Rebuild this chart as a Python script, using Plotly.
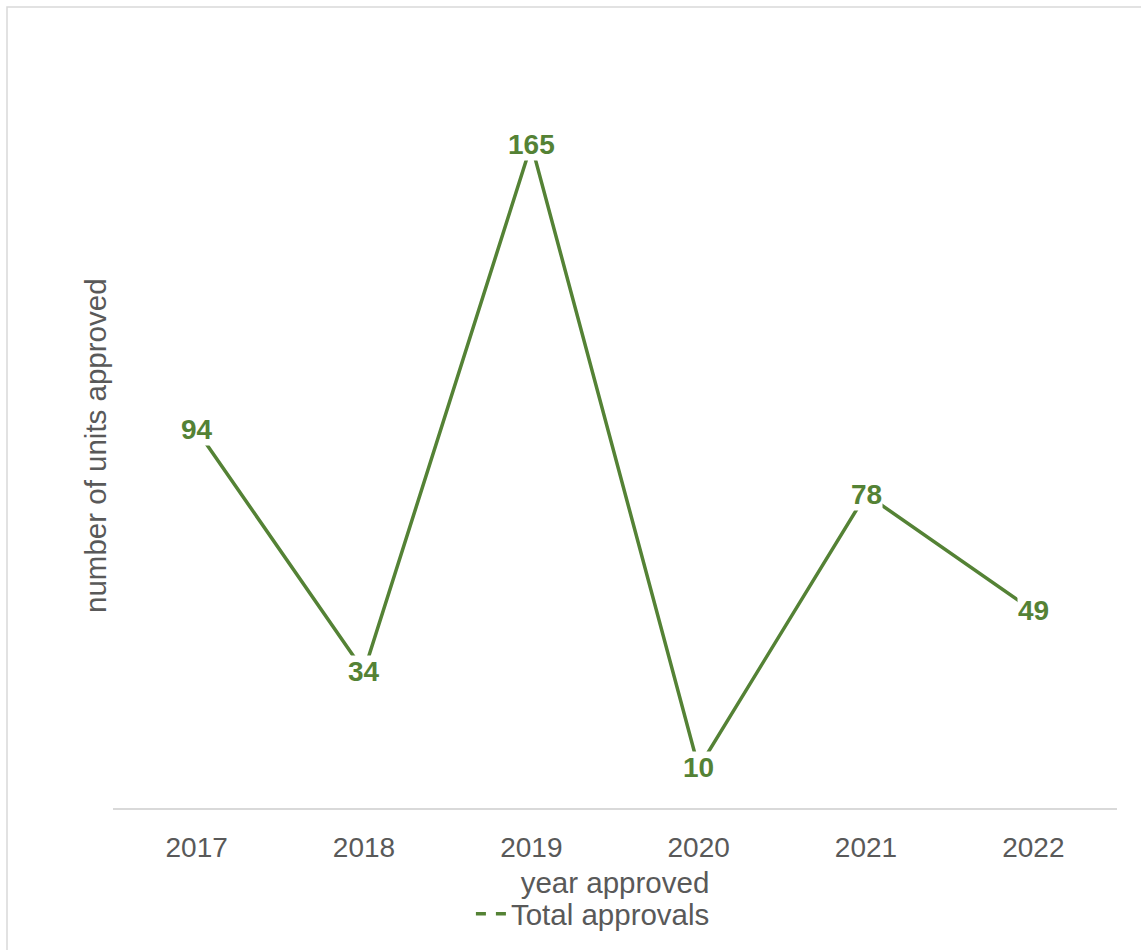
import plotly.graph_objects as go

years = ["2017", "2018", "2019", "2020", "2021", "2022"]
approvals = [94, 34, 165, 10, 78, 49]
series_name = "Total approvals"

GREEN = "#548235"
GREY = "#595959"
FONT = "Arial, Liberation Sans, sans-serif"

fig = go.Figure()
fig.add_trace(go.Scatter(x=years, y=approvals, mode="lines",
                         line=dict(color=GREEN, width=3.5), showlegend=False,
                         hoverinfo="x+y"))
# legend entry (sample drawn dashed as in the reference)
fig.add_trace(go.Scatter(x=[None], y=[None], mode="lines", name=series_name,
                         line=dict(color=GREEN, width=3.5, dash="10px,10px")))

for i, y in enumerate(approvals):
    fig.add_annotation(x=i, y=y, text=f"<b>{y}</b>", showarrow=False,
                       font=dict(family=FONT, size=28, color=GREEN),
                       bgcolor="white", borderpad=0, xanchor="center", yanchor="middle")

fig.add_annotation(x=(95 - 113) / 1004, y=0.5, xref="paper", yref="paper",
                   text="number of units approved", textangle=-90, showarrow=False,
                   font=dict(family=FONT, size=29.5, color=GREY),
                   xanchor="center", yanchor="middle")

fig.add_shape(type="rect", xref="paper", yref="paper",
              x0=(7 - 113) / 1004, x1=(1160 - 113) / 1004,
              y0=(808 - 970) / 724, y1=(808 - 7) / 724,
              line=dict(color="#D9D9D9", width=1.5), fillcolor="rgba(0,0,0,0)", layer="below")

fig.update_layout(
    width=1141, height=950,
    margin=dict(l=113, r=24, t=84, b=142, autoexpand=False),
    paper_bgcolor="white", plot_bgcolor="white",
    font=dict(family=FONT, size=28, color=GREY),
    xaxis=dict(type="category", range=[-0.5, 5.5], showgrid=False,
               showline=True, linecolor="#D9D9D9", linewidth=1.5,
               ticks="", tickfont=dict(size=28, color=GREY), ticklabelstandoff=14,
               title=dict(text="year approved", font=dict(size=29.5, color=GREY), standoff=10)),
    yaxis=dict(range=[0, 180], showgrid=False, showticklabels=False,
               zeroline=False, showline=False, ticks=""),
    legend=dict(orientation="h", x=0.478, xanchor="center", y=(808 - 940) / 724, yanchor="bottom",
                font=dict(size=29.5, color=GREY), bgcolor="rgba(0,0,0,0)"),
)

fig.write_html("out.html")
